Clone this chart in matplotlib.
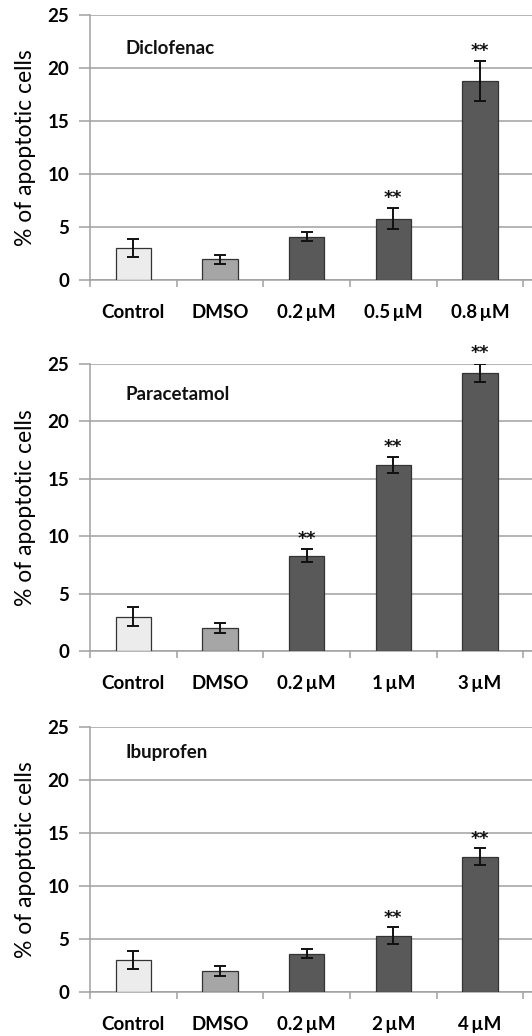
import matplotlib
matplotlib.use("Agg")
import matplotlib.pyplot as plt
import numpy as np

plt.rcParams['font.family'] = ['Lato', 'DejaVu Sans']

categories_dic = ["Control", "DMSO", "0.2\u2009\u00b5M", "0.5\u2009\u00b5M", "0.8\u2009\u00b5M"]
values_dic = [3.05, 1.95, 4.1, 5.8, 18.8]
errors_dic = [0.85, 0.42, 0.42, 1.0, 1.9]
stars_dic = [False, False, False, True, True]

categories_par = ["Control", "DMSO", "0.2\u2009\u00b5M", "1\u2009\u00b5M", "3\u2009\u00b5M"]
values_par = [3.0, 2.0, 8.3, 16.2, 24.25]
errors_par = [0.8, 0.44, 0.58, 0.68, 0.78]
stars_par = [False, False, True, True, True]

categories_ibu = ["Control", "DMSO", "0.2\u2009\u00b5M", "2\u2009\u00b5M", "4\u2009\u00b5M"]
values_ibu = [3.05, 1.98, 3.6, 5.3, 12.75]
errors_ibu = [0.85, 0.43, 0.43, 0.8, 0.8]
stars_ibu = [False, False, False, True, True]

titles = ["Diclofenac", "Paracetamol", "Ibuprofen"]
bar_colors = ["#ececec", "#a6a6a6", "#595959", "#595959", "#595959"]

W, H = 532, 1036
fig = plt.figure(figsize=(W / 100, H / 100), dpi=100)

# (left, top, right, bottom) in pixels
boxes = [(90, 15, 532, 280), (90, 364, 532, 651), (90, 727, 532, 992)]
title_y = [0.875, 0.892, 0.904]

panels = [
    (categories_dic, values_dic, errors_dic, stars_dic),
    (categories_par, values_par, errors_par, stars_par),
    (categories_ibu, values_ibu, errors_ibu, stars_ibu),
]

grid_c = "#a0a0a0"
for i, ((cats, vals, errs, stars), (l, t, r, b)) in enumerate(zip(panels, boxes)):
    ax = fig.add_axes([l / W, 1 - b / H, (r - l) / W, (b - t) / H])
    x = np.arange(len(cats))
    ax.bar(x, vals, width=0.41, color=bar_colors, edgecolor="#333333", linewidth=0.9, zorder=3)
    ax.errorbar(x, vals, yerr=errs, fmt="none", ecolor="#111111", elinewidth=1.4,
                capsize=4, capthick=1.4, zorder=4)
    for xi, v, e, s in zip(x, vals, errs, stars):
        if s:
            ax.text(xi, v + e + 0.9, "**", ha="center", va="center", fontsize=12.5,
                    fontweight="bold", color="#111111", zorder=5, clip_on=False,
                    family="DejaVu Sans")
    ax.set_ylim(0, 25)
    ax.set_xlim(-0.5, 4.6)
    ax.set_yticks([0, 5, 10, 15, 20, 25])
    ax.set_yticklabels(["0", "5", "10", "15", "20", "25"], fontsize=13.5, fontweight="bold")
    ax.yaxis.grid(True, color=grid_c, linewidth=1.1, zorder=0)
    ax.set_axisbelow(True)
    ax.set_xticks(x)
    ax.set_xticklabels(cats, fontsize=13.5, fontweight="bold")
    ax.set_xticks(np.arange(-0.5, 5.0, 1.0), minor=True)
    ax.tick_params(axis="x", which="major", length=0, pad=17)
    ax.tick_params(axis="x", which="minor", length=5, color=grid_c, width=1.1, direction="out")
    ax.tick_params(axis="y", length=8, color=grid_c, width=1.1, pad=7)
    for sp in ["top", "right"]:
        ax.spines[sp].set_visible(False)
    ax.spines["left"].set_color(grid_c)
    ax.spines["bottom"].set_color(grid_c)
    ax.spines["left"].set_linewidth(1.1)
    ax.spines["bottom"].set_linewidth(1.1)
    ax.set_ylabel("% of apoptotic cells", fontsize=16.5)
    ax.yaxis.set_label_coords(-0.122, 0.5)
    ax.text(0.08, title_y[i], titles[i], transform=ax.transAxes, fontsize=13.5,
            fontweight="bold", va="center", ha="left", color="#111111")

fig.savefig("out.png", dpi=100)
